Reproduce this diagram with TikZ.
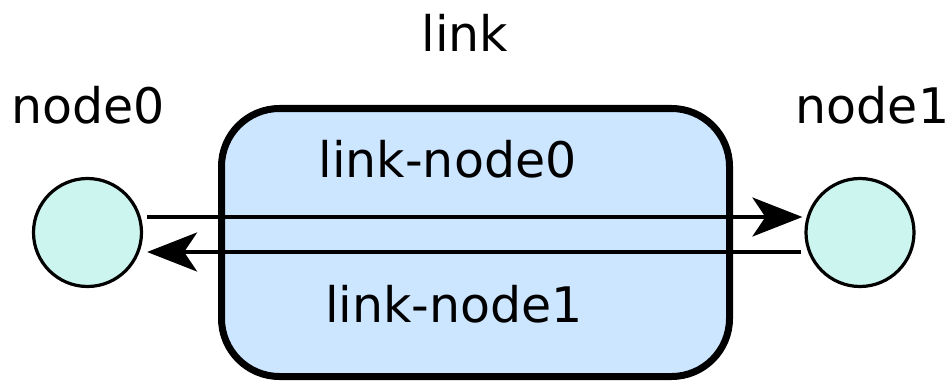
\documentclass[tikz,border=0pt]{standalone}
\usepackage{fontspec}
\setmainfont{DejaVu Sans}
\usetikzlibrary{arrows.meta}
\definecolor{linkfill}{RGB}{204,230,255}
\definecolor{hostfill}{RGB}{205,245,240}
\tikzset{
  host/.style={circle, draw=black, line width=3.2pt, fill=hostfill,
    minimum size=108pt, inner sep=0pt},
  linkbox/.style={rectangle, draw=black, line width=7pt, fill=linkfill,
    rounded corners=58pt, minimum width=508pt, minimum height=268pt, inner sep=0pt},
  lbl/.style={font=\fontsize{49}{58}\selectfont, anchor=base, inner sep=0pt},
  flow/.style={line width=3.5pt, -{Stealth[length=50pt, width=39pt, inset=13pt]}}
}
\begin{document}
\begin{tikzpicture}[x=1pt, y=1pt]
  \useasboundingbox (0,0) rectangle (950,381);
  % the link and the two hosts on either side
  \node[linkbox] (box) at (475.5,138.5) {};
  \node[host] (n0) at (87.5,148.5) {};
  \node[host] (n1) at (860,148.5) {};
  % labels
  \node[lbl] (tlink) at (465,329) {link};
  \node[lbl] (tn0) at (88,258) {node0};
  \node[lbl] (tn1) at (872.5,258) {node1};
  \node[lbl] (tl0) at (447.5,204) {link-node0};
  \node[lbl] (tl1) at (454,59) {link-node1};
  % traffic in both directions
  \draw[flow] ([xshift=4pt, yshift=15.5pt]n0.east) -- ([xshift=-2pt, yshift=15.5pt]n1.west);
  \draw[flow] ([xshift=-3pt, yshift=-19.5pt]n1.west) -- ([xshift=4pt, yshift=-19.5pt]n0.east);
\end{tikzpicture}
\end{document}
